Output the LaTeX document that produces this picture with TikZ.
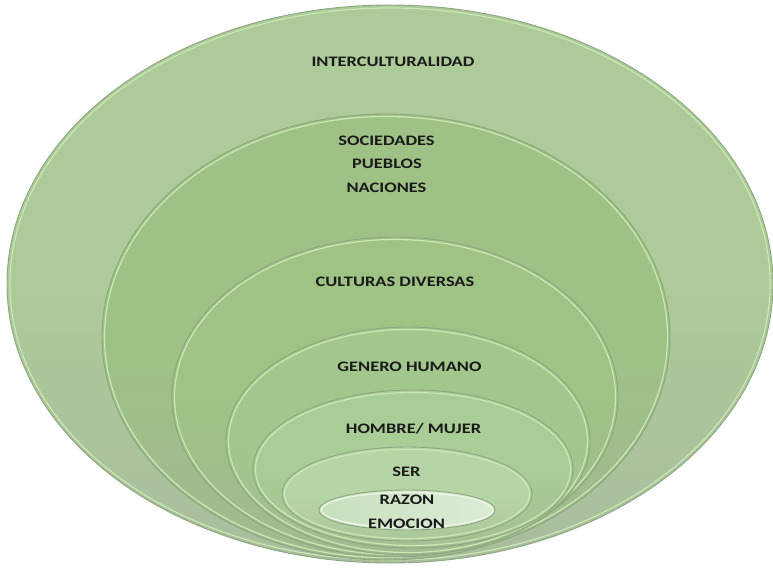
\documentclass[tikz,border=0pt]{standalone}
\usepackage{fontspec}
\setmainfont{Carlito}
\definecolor{ringline}{HTML}{8CA67F}
\definecolor{ringhl}{HTML}{C9E8B2}
\definecolor{cA}{HTML}{ADCA99}
\definecolor{cAb}{HTML}{AABD9E}
\definecolor{cB}{HTML}{9EC285}
\definecolor{cBb}{HTML}{A0BA90}
\definecolor{cC}{HTML}{9EC385}
\definecolor{cD}{HTML}{A2C78C}
\definecolor{cE}{HTML}{A9CD96}
\definecolor{cF}{HTML}{B6D5A6}
\definecolor{cG}{HTML}{C8E0BE}
\definecolor{cGr}{HTML}{DCECD4}
\definecolor{txt}{HTML}{1A1A1A}
\begin{document}
\begin{tikzpicture}[x=1pt,y=-1pt,
  ring/.style={draw=ringline, line width=0.9pt},
  hl/.style={draw=ringhl, line width=1.2pt},
  lbl/.style={font=\fontsize{14.5}{16}\selectfont\bfseries, text=txt, inner sep=0pt}]
\useasboundingbox (0,0) rectangle (773,568);
\fill[white] (0,0) rectangle (773,568);
% E1
\shade[shading angle=35, top color=cA, bottom color=cAb, middle color=cA] (390,284) ellipse [x radius=383, y radius=279];
\draw[hl] (390,284) ellipse [x radius=380, y radius=276];
\draw[ring] (390,284) ellipse [x radius=383, y radius=279];
% E2
\shade[shading angle=35, top color=cB, bottom color=cBb, middle color=cB] (386,337) ellipse [x radius=284, y radius=223];
\draw[hl] (386,337) ellipse [x radius=281.5, y radius=220.5];
\draw[ring] (386,337) ellipse [x radius=284, y radius=223];
% E3
\shade[shading angle=35, top color=cC, bottom color=cBb, middle color=cC] (395,397) ellipse [x radius=223, y radius=160];
\draw[hl] (395,397) ellipse [x radius=220.5, y radius=157.5];
\draw[ring] (395,397) ellipse [x radius=223, y radius=160];
% E4
\shade[shading angle=35, top color=cD, bottom color=cBb, middle color=cD] (408,441) ellipse [x radius=182, y radius=114];
\draw[hl] (408,441) ellipse [x radius=179.5, y radius=111.5];
\draw[ring] (408,441) ellipse [x radius=182, y radius=114];
% E5
\shade[shading angle=35, top color=cE, bottom color=cBb!70!cE, middle color=cE] (413,469) ellipse [x radius=160, y radius=79];
\draw[hl] (413,469) ellipse [x radius=157.5, y radius=76.5];
\draw[ring] (413,469) ellipse [x radius=160, y radius=79];
% E6
\shade[shading angle=35, top color=cF, bottom color=cBb!50!cF, middle color=cF] (407,494) ellipse [x radius=125, y radius=47];
\draw[hl] (407,494) ellipse [x radius=122.5, y radius=44.5];
\draw[ring] (407,494) ellipse [x radius=125, y radius=47];
% E7
\shade[left color=cG, right color=cGr] (407,510) ellipse [x radius=88, y radius=20];
\draw[hl, draw=white!70!ringhl] (407,510) ellipse [x radius=85.5, y radius=17.5];
\draw[ring] (407,510) ellipse [x radius=88, y radius=20];
% labels
\node[lbl] (t1) at (393,62) {\scalebox{1.27}[1]{INTERCULTURALIDAD}};
\node[lbl] (t2) at (386.5,140.5) {\scalebox{1.27}[1]{SOCIEDADES}};
\node[lbl] (t3) at (387,163.5) {\scalebox{1.27}[1]{PUEBLOS}};
\node[lbl] (t4) at (386.5,188) {\scalebox{1.27}[1]{NACIONES}};
\node[lbl] (t5) at (395,282) {\scalebox{1.27}[1]{CULTURAS DIVERSAS}};
\node[lbl] (t6) at (409.5,367) {\scalebox{1.27}[1]{GENERO HUMANO}};
\node[lbl] (t7) at (413.5,429) {\scalebox{1.27}[1]{HOMBRE/ MUJER}};
\node[lbl] (t8) at (406.5,472) {\scalebox{1.27}[1]{SER}};
\node[lbl] (t9) at (407,500) {\scalebox{1.27}[1]{RAZON}};
\node[lbl] (t10) at (406.5,523.5) {\scalebox{1.27}[1]{EMOCION}};
\end{tikzpicture}
\end{document}
